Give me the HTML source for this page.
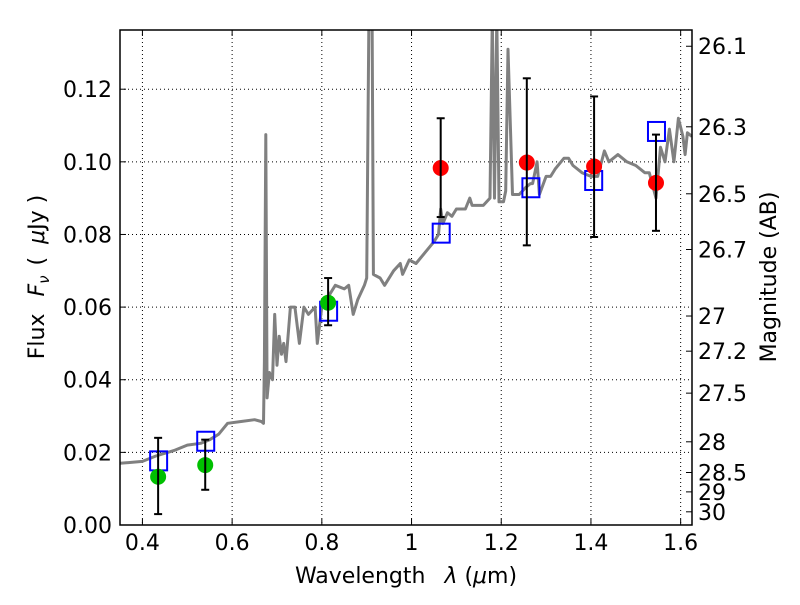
<!DOCTYPE html>
<html><head><meta charset="utf-8"><style>
body{margin:0;background:#fff}
svg text{font-family:"DejaVu Sans","Liberation Sans",sans-serif;font-size:22px;fill:#000}
</style></head><body>
<svg id="chart" width="800" height="600" viewBox="0 0 800 600">
<g id="grid"></g>
<g id="spec"></g>
<g id="marks"></g>
<rect x="120" y="30" width="572" height="495" fill="none" stroke="#000" stroke-width="1.5"/>
<g id="axes"></g>
<text x="406" y="583" text-anchor="middle">Wavelength <tspan dx="12" font-style="italic">λ</tspan> (<tspan font-style="italic">μ</tspan>m)</text>
<text transform="translate(44,277) rotate(-90)" text-anchor="middle">Flux <tspan dx="10" font-style="italic">F<tspan font-size="15" dy="5">ν</tspan></tspan><tspan dy="-5" dx="10">( </tspan><tspan dx="6" font-style="italic">μ</tspan>Jy )</text>
<text transform="translate(776,277) rotate(-90)" text-anchor="middle">Magnitude (AB)</text>
</svg>
<script>
const specWave=[0.35,0.40,0.43,0.47,0.50,0.53,0.55,0.57,0.59,0.62,0.65,0.665,0.67,0.672,0.675,0.678,0.683,0.69,0.695,0.70,0.705,0.71,0.715,0.72,0.73,0.74,0.75,0.76,0.77,0.785,0.79,0.80,0.82,0.83,0.85,0.86,0.87,0.88,0.895,0.90,0.905,0.912,0.915,0.93,0.94,0.96,0.975,0.98,0.995,1.01,1.03,1.05,1.06,1.065,1.07,1.08,1.09,1.10,1.12,1.13,1.135,1.16,1.175,1.18,1.185,1.19,1.195,1.205,1.21,1.215,1.225,1.24,1.255,1.265,1.27,1.28,1.285,1.30,1.31,1.32,1.34,1.35,1.36,1.38,1.40,1.415,1.43,1.44,1.46,1.48,1.50,1.52,1.53,1.545,1.555,1.565,1.575,1.585,1.595,1.605,1.61,1.615,1.625];
const specFlux=[0.017,0.0175,0.019,0.0205,0.022,0.0225,0.0235,0.025,0.028,0.0285,0.029,0.0285,0.028,0.045,0.1075,0.035,0.042,0.04,0.058,0.044,0.052,0.047,0.05,0.045,0.06,0.06,0.05,0.06,0.058,0.06,0.05,0.06,0.064,0.066,0.065,0.066,0.058,0.062,0.066,0.068,0.14,0.14,0.069,0.068,0.066,0.07,0.072,0.069,0.073,0.072,0.075,0.078,0.080,0.087,0.083,0.086,0.085,0.087,0.087,0.090,0.088,0.088,0.090,0.14,0.09,0.14,0.089,0.089,0.092,0.131,0.091,0.091,0.093,0.094,0.094,0.100,0.091,0.096,0.096,0.098,0.101,0.101,0.099,0.097,0.096,0.096,0.103,0.100,0.102,0.100,0.099,0.097,0.097,0.090,0.104,0.100,0.109,0.100,0.112,0.107,0.102,0.108,0.107];
const greenWave=[0.435,0.54,0.814];
const greenFlux=[0.0133,0.0165,0.0612];
const greenLo=[0.003,0.0097,0.055];
const greenHi=[0.024,0.0235,0.068];
const redWave=[1.065,1.257,1.407,1.545];
const redFlux=[0.0983,0.0998,0.0987,0.0942];
const redLo=[0.0848,0.077,0.0793,0.081];
const redHi=[0.112,0.123,0.118,0.1075];
const modelWave=[0.435,0.54,0.814,1.065,1.265,1.405,1.545];
const modelFlux=[0.0178,0.0232,0.059,0.0805,0.093,0.095,0.1085];
const xTicks=[0.4,0.6,0.8,1.0,1.2,1.4,1.6];
const xTickLabels=["0.4","0.6","0.8","1","1.2","1.4","1.6"];
const yTicks=[0,0.02,0.04,0.06,0.08,0.10,0.12];
const yTickLabels=["0.00","0.02","0.04","0.06","0.08","0.10","0.12"];
const magTicks=[26.1,26.3,26.5,26.7,27,27.2,27.5,28,28.5,29,30];
const magTickLabels=["26.1","26.3","26.5","26.7","27","27.2","27.5","28","28.5","29","30"];

const X0=120,X1=692,Y0=525,Y1=30,XMIN=0.35,XMAX=1.6253,YMIN=0,YMAX=0.1363;
const sx=v=>X0+(v-XMIN)/(XMAX-XMIN)*(X1-X0);
const sy=v=>Y0-(v-YMIN)/(YMAX-YMIN)*(Y0-Y1);
const NS="http://www.w3.org/2000/svg";
function mk(tag,attrs,parent){const e=document.createElementNS(NS,tag);for(const k in attrs)e.setAttribute(k,attrs[k]);parent.appendChild(e);return e;}
const grid=document.getElementById('grid'),axes=document.getElementById('axes'),spec=document.getElementById('spec'),marks=document.getElementById('marks');

xTicks.forEach((t,i)=>{const x=sx(t);
 let g=mk('line',{x1:x,x2:x,y1:Y1,y2:Y0,stroke:'#000','stroke-width':1,'stroke-dasharray':'1,3'},grid);
 
 
 mk('line',{x1:x,x2:x,y1:Y0,y2:Y0-6,stroke:'#000'},axes);
 mk('line',{x1:x,x2:x,y1:Y1,y2:Y1+6,stroke:'#000'},axes);
 let l=mk('text',{x:x,y:Y0+25,'text-anchor':'middle'},axes);l.textContent=xTickLabels[i];
 
 
});
yTicks.forEach((t,i)=>{const y=sy(t);
 let g=mk('line',{x1:X0,x2:X1,y1:y,y2:y,stroke:'#000','stroke-width':1,'stroke-dasharray':'1,3'},grid);
 
 
 mk('line',{x1:X0,x2:X0+6,y1:y,y2:y,stroke:'#000'},axes);
 let l=mk('text',{x:X0-8,y:y+8,'text-anchor':'end'},axes);l.textContent=yTickLabels[i];
 
 
});
magTicks.forEach((m,i)=>{const f=Math.pow(10,(23.9-m)/2.5);const y=sy(f);
 mk('line',{x1:X1-6,x2:X1,y1:y,y2:y,stroke:'#000'},axes);
 let l=mk('text',{x:X1+6,y:y+8},axes);l.textContent=magTickLabels[i];
 
 
});
let d='';specWave.forEach((w,i)=>{d+=(i?'L':'M')+sx(w).toFixed(1)+','+sy(specFlux[i]).toFixed(1);});
mk('clipPath',{id:'clip'},spec).appendChild(document.createElementNS(NS,'rect'));
const cr=spec.querySelector('clipPath rect');cr.setAttribute('x',X0);cr.setAttribute('y',Y1);cr.setAttribute('width',X1-X0);cr.setAttribute('height',Y0-Y1);
let p=mk('path',{d:d,fill:'none',stroke:'#808080','stroke-width':3,'stroke-linejoin':'round','clip-path':'url(#clip)'},spec);



function errbar(w,lo,hi){const x=sx(w);
 mk('line',{x1:x,x2:x,y1:sy(lo),y2:sy(hi),stroke:'#000','stroke-width':2},marks);
 mk('line',{x1:x-4,x2:x+4,y1:sy(lo),y2:sy(lo),stroke:'#000','stroke-width':2},marks);
 mk('line',{x1:x-4,x2:x+4,y1:sy(hi),y2:sy(hi),stroke:'#000','stroke-width':2},marks);}
modelWave.forEach((w,i)=>{
 let r=mk('rect',{x:sx(w)-8,y:sy(modelFlux[i])-9,width:17,height:19,fill:'none',stroke:'#0000ff','stroke-width':2},marks);
 
 
});
greenWave.forEach((w,i)=>{
 let c=mk('circle',{cx:sx(w),cy:sy(greenFlux[i]),r:8,fill:'#00c000'},marks);
 
 
 errbar(w,greenLo[i],greenHi[i]);
});
redWave.forEach((w,i)=>{
 let c=mk('circle',{cx:sx(w),cy:sy(redFlux[i]),r:8,fill:'#ff0000'},marks);
 
 
 errbar(w,redLo[i],redHi[i]);
});
</script>
</body></html>
